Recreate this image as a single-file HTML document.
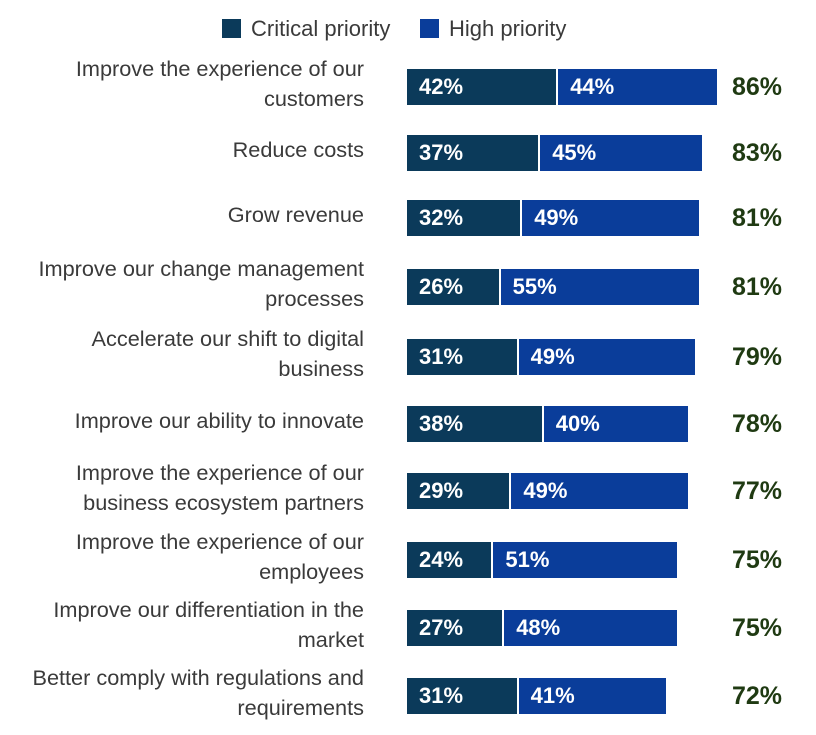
<!DOCTYPE html>
<html><head><meta charset="utf-8"><style>
body{margin:0;background:#fff;width:816px;height:735px;position:relative;font-family:"Liberation Sans",sans-serif;overflow:hidden}
.abs{position:absolute}
.lab{position:absolute;right:452px;text-align:right;font-size:21.7px;line-height:30px;color:#3a3a3a;transform:translateY(-50%);white-space:nowrap}
.seg{position:absolute;height:36px;color:#fff;font-weight:bold;font-size:22px;line-height:36px;box-sizing:border-box;padding-left:12px;white-space:nowrap;overflow:hidden}
.tot{position:absolute;left:732px;font-weight:bold;font-size:25px;color:#1f3a12;line-height:36px}
</style></head><body>
<div class="abs" style="left:0;top:0;width:816px;height:50px">
<div class="abs" style="left:222px;top:19px;width:19px;height:19px;background:#0b3a5a"></div>
<div class="abs" style="left:251px;top:16px;font-size:22px;color:#3a3a3a">Critical priority</div>
<div class="abs" style="left:420px;top:19px;width:19px;height:19px;background:#0a3d9a"></div>
<div class="abs" style="left:449px;top:16px;font-size:22px;color:#3a3a3a">High priority</div>
</div>
<div id="chart"></div>
<script>
const categories=["Improve the experience of our<br>customers","Reduce costs","Grow revenue","Improve our change management<br>processes","Accelerate our shift to digital<br>business","Improve our ability to innovate","Improve the experience of our<br>business ecosystem partners","Improve the experience of our<br>employees","Improve our differentiation in the<br>market","Better comply with regulations and<br>requirements"];
const critical=[42,37,32,26,31,38,29,24,27,31];
const high=[44,45,49,55,49,40,49,51,48,41];
const totals=[86,83,81,81,79,78,77,75,75,72];
const tops=[69,135,200,269,339,406,473,542,610,678];
const x0=407,k=3.6;
const c=document.getElementById('chart');
categories.forEach((cat,i)=>{
  const t=tops[i];
  const l=document.createElement('div');l.className='lab';
  
  
  l.style.top=(t+15)+'px';l.innerHTML=cat;c.appendChild(l);
  const a=document.createElement('div');a.className='seg';
  
  
  a.style.cssText+=`left:${x0}px;top:${t}px;width:${critical[i]*k-2}px;background:#0b3a5a`;
  a.textContent=critical[i]+'%';c.appendChild(a);
  const b=document.createElement('div');b.className='seg';
  
  
  b.style.cssText+=`left:${x0+critical[i]*k}px;top:${t}px;width:${high[i]*k}px;background:#0a3d9a`;
  b.textContent=high[i]+'%';c.appendChild(b);
  const s=document.createElement('div');s.className='tot';
  
  
  s.style.top=t+'px';s.textContent=totals[i]+'%';c.appendChild(s);
});
</script>
</body></html>
